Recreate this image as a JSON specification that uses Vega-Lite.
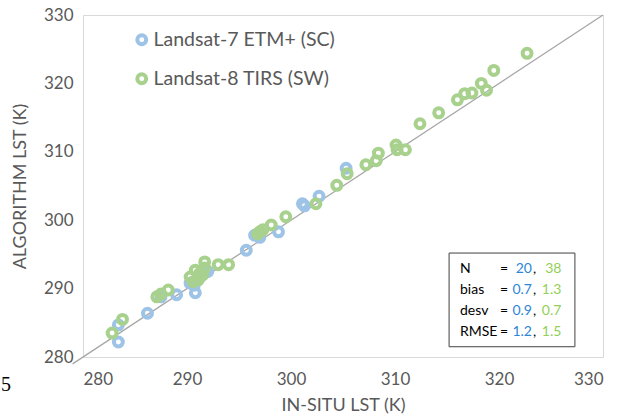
{
  "$schema": "https://vega.github.io/schema/vega-lite/v6.json",
  "autosize": "none",
  "width": 520,
  "height": 342,
  "padding": {"left": 83, "top": 15, "right": 21, "bottom": 61},
  "background": "white",
  "config": {
    "view": {"stroke": "#D9D9D9", "strokeWidth": 1},
    "font": "Lato",
    "axis": {
      "domain": false,
      "ticks": false,
      "grid": false,
      "labelFont": "Lato",
      "labelFontSize": 17,
      "labelColor": "#595959",
      "titleFont": "Lato",
      "titleFontSize": 18,
      "titleFontWeight": "normal",
      "titleColor": "#595959"
    }
  },
  "datasets": {
    "pts": [
      {"series": "Landsat-7 ETM+ (SC)", "insitu": 283.4, "algo": 282.2},
      {"series": "Landsat-7 ETM+ (SC)", "insitu": 283.4, "algo": 284.7},
      {"series": "Landsat-7 ETM+ (SC)", "insitu": 286.2, "algo": 286.4},
      {"series": "Landsat-7 ETM+ (SC)", "insitu": 287.5, "algo": 288.8},
      {"series": "Landsat-7 ETM+ (SC)", "insitu": 289.0, "algo": 289.1},
      {"series": "Landsat-7 ETM+ (SC)", "insitu": 290.8, "algo": 289.4},
      {"series": "Landsat-7 ETM+ (SC)", "insitu": 290.7, "algo": 290.5},
      {"series": "Landsat-7 ETM+ (SC)", "insitu": 290.3, "algo": 290.8},
      {"series": "Landsat-7 ETM+ (SC)", "insitu": 291.0, "algo": 291.2},
      {"series": "Landsat-7 ETM+ (SC)", "insitu": 291.3, "algo": 291.8},
      {"series": "Landsat-7 ETM+ (SC)", "insitu": 291.7, "algo": 292.3},
      {"series": "Landsat-7 ETM+ (SC)", "insitu": 292.0, "algo": 292.5},
      {"series": "Landsat-7 ETM+ (SC)", "insitu": 295.7, "algo": 295.6},
      {"series": "Landsat-7 ETM+ (SC)", "insitu": 296.5, "algo": 297.8},
      {"series": "Landsat-7 ETM+ (SC)", "insitu": 297.0, "algo": 297.5},
      {"series": "Landsat-7 ETM+ (SC)", "insitu": 298.8, "algo": 298.3},
      {"series": "Landsat-7 ETM+ (SC)", "insitu": 301.1, "algo": 302.4},
      {"series": "Landsat-7 ETM+ (SC)", "insitu": 301.3, "algo": 302.1},
      {"series": "Landsat-7 ETM+ (SC)", "insitu": 302.7, "algo": 303.5},
      {"series": "Landsat-7 ETM+ (SC)", "insitu": 305.3, "algo": 307.6},
      {"series": "Landsat-8 TIRS (SW)", "insitu": 282.8, "algo": 283.5},
      {"series": "Landsat-8 TIRS (SW)", "insitu": 283.8, "algo": 285.5},
      {"series": "Landsat-8 TIRS (SW)", "insitu": 287.1, "algo": 288.8},
      {"series": "Landsat-8 TIRS (SW)", "insitu": 287.5, "algo": 289.2},
      {"series": "Landsat-8 TIRS (SW)", "insitu": 288.2, "algo": 289.8},
      {"series": "Landsat-8 TIRS (SW)", "insitu": 290.3, "algo": 291.7},
      {"series": "Landsat-8 TIRS (SW)", "insitu": 290.6, "algo": 291.0},
      {"series": "Landsat-8 TIRS (SW)", "insitu": 291.1, "algo": 291.3},
      {"series": "Landsat-8 TIRS (SW)", "insitu": 291.2, "algo": 292.2},
      {"series": "Landsat-8 TIRS (SW)", "insitu": 291.5, "algo": 292.0},
      {"series": "Landsat-8 TIRS (SW)", "insitu": 290.8, "algo": 292.7},
      {"series": "Landsat-8 TIRS (SW)", "insitu": 291.7, "algo": 293.0},
      {"series": "Landsat-8 TIRS (SW)", "insitu": 291.7, "algo": 293.9},
      {"series": "Landsat-8 TIRS (SW)", "insitu": 293.0, "algo": 293.5},
      {"series": "Landsat-8 TIRS (SW)", "insitu": 294.0, "algo": 293.5},
      {"series": "Landsat-8 TIRS (SW)", "insitu": 296.8, "algo": 298.0},
      {"series": "Landsat-8 TIRS (SW)", "insitu": 297.0, "algo": 298.3},
      {"series": "Landsat-8 TIRS (SW)", "insitu": 297.3, "algo": 298.6},
      {"series": "Landsat-8 TIRS (SW)", "insitu": 298.1, "algo": 299.3},
      {"series": "Landsat-8 TIRS (SW)", "insitu": 299.5, "algo": 300.5},
      {"series": "Landsat-8 TIRS (SW)", "insitu": 302.4, "algo": 302.4},
      {"series": "Landsat-8 TIRS (SW)", "insitu": 304.4, "algo": 305.1},
      {"series": "Landsat-8 TIRS (SW)", "insitu": 305.4, "algo": 306.8},
      {"series": "Landsat-8 TIRS (SW)", "insitu": 307.2, "algo": 308.1},
      {"series": "Landsat-8 TIRS (SW)", "insitu": 308.2, "algo": 308.7},
      {"series": "Landsat-8 TIRS (SW)", "insitu": 308.4, "algo": 309.8},
      {"series": "Landsat-8 TIRS (SW)", "insitu": 310.1, "algo": 311.0},
      {"series": "Landsat-8 TIRS (SW)", "insitu": 310.2, "algo": 310.3},
      {"series": "Landsat-8 TIRS (SW)", "insitu": 311.0, "algo": 310.3},
      {"series": "Landsat-8 TIRS (SW)", "insitu": 312.4, "algo": 314.1},
      {"series": "Landsat-8 TIRS (SW)", "insitu": 314.2, "algo": 315.7},
      {"series": "Landsat-8 TIRS (SW)", "insitu": 316.0, "algo": 317.6},
      {"series": "Landsat-8 TIRS (SW)", "insitu": 316.7, "algo": 318.5},
      {"series": "Landsat-8 TIRS (SW)", "insitu": 317.4, "algo": 318.6},
      {"series": "Landsat-8 TIRS (SW)", "insitu": 318.3, "algo": 320.0},
      {"series": "Landsat-8 TIRS (SW)", "insitu": 318.8, "algo": 319.0},
      {"series": "Landsat-8 TIRS (SW)", "insitu": 319.5, "algo": 321.9},
      {"series": "Landsat-8 TIRS (SW)", "insitu": 322.7, "algo": 324.4}
    ],
    "oneToOne": [{"v": 279}, {"v": 330}]
  },
  "layer": [
    {
      "data": {"name": "oneToOne"},
      "mark": {"type": "line", "color": "#A6A6A6", "strokeWidth": 1.3, "clip": false},
      "encoding": {
        "x": {"field": "v", "type": "quantitative", "scale": {"domain": [280, 330], "nice": false, "zero": false},
              "axis": {"title": "IN-SITU LST (K)", "values": [280, 290, 300, 310, 320, 330], "labelPadding": 14, "titlePadding": 9}},
        "y": {"field": "v", "type": "quantitative", "scale": {"domain": [280, 330], "nice": false, "zero": false},
              "axis": {"title": "ALGORITHM LST (K)", "values": [280, 290, 300, 310, 320, 330], "labelPadding": 10, "titlePadding": 14}}
      }
    },
    {
      "data": {"name": "pts"},
      "mark": {"type": "point", "shape": "circle", "filled": false, "strokeWidth": 4, "size": 80, "opacity": 1},
      "encoding": {
        "x": {"field": "insitu", "type": "quantitative"},
        "y": {"field": "algo", "type": "quantitative"},
        "color": {
          "field": "series", "type": "nominal",
          "scale": {"domain": ["Landsat-7 ETM+ (SC)", "Landsat-8 TIRS (SW)"], "range": ["#9DC3E6", "#A9D18E"]},
          "legend": {
            "title": null, "orient": "none", "legendX": 49, "legendY": 15,
            "labelFont": "Lato", "labelFontSize": 19.5, "labelColor": "#595959", "labelLimit": 400,
            "symbolType": "circle", "symbolSize": 80, "symbolStrokeWidth": 4,
            "rowPadding": 13, "labelOffset": 2
          }
        }
      }
    },
    {
      "data": {"values": [{}]},
      "mark": {"type": "rect", "fill": "white", "stroke": "#404040", "strokeWidth": 1},
      "encoding": {
        "x": {"datum": 315.2}, "x2": {"datum": 327.3},
        "y": {"datum": 295.2}, "y2": {"datum": 281.5}
      }
    },
    {
      "data": {"values": [{}]},
      "mark": {"type": "text", "align": "left", "baseline": "middle", "font": "Lato", "fontSize": 14, "lineHeight": 21, "color": "#000000",
               "text": ["N", "bias", "desv", "RMSE"]},
      "encoding": {"x": {"datum": 316.25}, "y": {"datum": 292.9}}
    },
    {
      "data": {"values": [{}]},
      "mark": {"type": "text", "align": "left", "baseline": "middle", "font": "Lato", "fontSize": 14, "lineHeight": 21, "color": "#000000",
               "text": ["=", "=", "=", "="]},
      "encoding": {"x": {"datum": 320.1}, "y": {"datum": 292.9}}
    },
    {
      "data": {"values": [{}]},
      "mark": {"type": "text", "align": "right", "baseline": "middle", "font": "Lato", "fontSize": 14, "lineHeight": 21, "color": "#2E86D6",
               "text": ["20", "0.7", "0.9", "1.2"]},
      "encoding": {"x": {"datum": 323.17}, "y": {"datum": 292.9}}
    },
    {
      "data": {"values": [{}]},
      "mark": {"type": "text", "align": "left", "baseline": "middle", "font": "Lato", "fontSize": 14, "lineHeight": 21, "color": "#000000", "dx": 1,
               "text": [",", ",", ",", ","]},
      "encoding": {"x": {"datum": 323.17}, "y": {"datum": 292.9}}
    },
    {
      "data": {"values": [{}]},
      "mark": {"type": "text", "align": "right", "baseline": "middle", "font": "Lato", "fontSize": 14, "lineHeight": 21, "color": "#92CF5A",
               "text": ["38", "1.3", "0.7", "1.5"]},
      "encoding": {"x": {"datum": 326.0}, "y": {"datum": 292.9}}
    },
    {
      "data": {"values": [{}]},
      "mark": {"type": "text", "align": "center", "baseline": "middle", "font": "Liberation Serif", "fontSize": 20, "color": "#000000", "text": "5", "clip": false},
      "encoding": {"x": {"datum": 272.6}, "y": {"datum": 275.9}}
    }
  ]
}
